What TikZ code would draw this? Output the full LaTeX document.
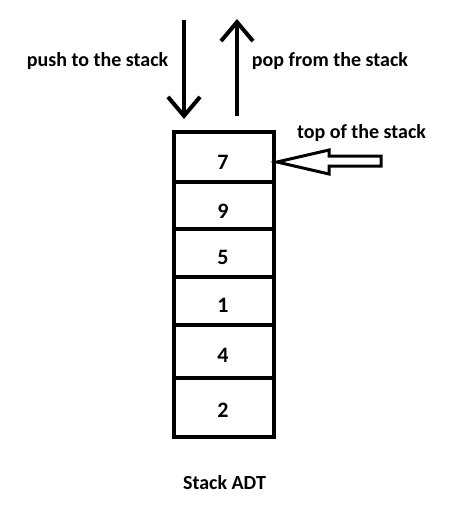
\documentclass[tikz,border=0pt]{standalone}
\usepackage{fontspec}
\setmainfont{Carlito}
\usetikzlibrary{arrows.meta}
\begin{document}
\begin{tikzpicture}[x=1pt,y=-1pt,
  cell/.style={draw=black, line width=4pt, minimum width=100pt, inner sep=0pt, outer sep=0pt},
  num/.style={anchor=base, font=\fontsize{22}{26}\selectfont\bfseries, inner sep=0pt},
  lbl/.style={anchor=base, font=\fontsize{20}{24}\selectfont\bfseries, inner sep=0pt},
  vline/.style={line width=4pt},
  barb/.style={-{Straight Barb[length=19pt,width=32pt,line width=4pt]}}
]
\useasboundingbox (0,0) rectangle (474,515);
\fill[white] (0,0) rectangle (474,515);
% cells
\node[cell, minimum height=50pt] (c7) at (224,157) {};
\node[cell, minimum height=47pt] (c9) at (224,205.5) {};
\node[cell, minimum height=48pt] (c5) at (224,253) {};
\node[cell, minimum height=48pt] (c1) at (224,301) {};
\node[cell, minimum height=53pt] (c4) at (224,351.5) {};
\node[cell, minimum height=59pt] (c2) at (224,407.5) {};
% numbers
\node[num] (n7) at (223,169) {7};
\node[num] (n9) at (223,218) {9};
\node[num] (n5) at (223,264) {5};
\node[num] (n1) at (223,312) {1};
\node[num] (n4) at (223,362) {4};
\node[num] (n2) at (223,417) {2};
% labels
\node[lbl] (push) at (97.5,66.5) {push to the stack};
\node[lbl] (pop) at (330,66) {pop from the stack};
\node[lbl] (top) at (361.5,138) {top of the stack};
\node[lbl] (adt) at (224.5,489) {Stack ADT};
% push / pop arrows
\coordinate (pushS) at (184,20);
\coordinate (pushE) at (184,119);
\coordinate (popS) at (237,116);
\coordinate (popE) at (237,19);
\draw[vline, barb] (pushS) -- (pushE);
\draw[vline, barb] (popS) -- (popE);
% hollow arrow pointing to top
\draw[line width=3pt, line join=miter]
  (277,162) -- (329,150) -- (329,156) -- (381,156) -- (381,166) -- (329,166) -- (329,174) -- cycle;
\end{tikzpicture}
\end{document}
